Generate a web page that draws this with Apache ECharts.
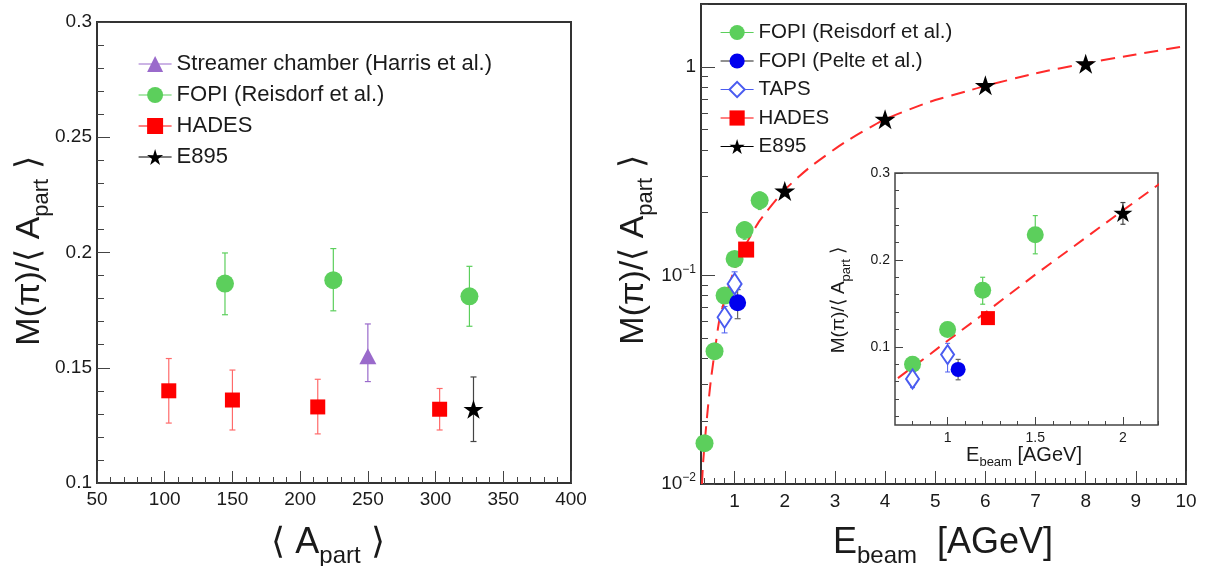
<!DOCTYPE html>
<html><head><meta charset="utf-8">
<script src="https://cdn.jsdelivr.net/npm/echarts@6/dist/echarts.min.js"></script>
<style>html,body{margin:0;padding:0;background:#fff}#c{width:1205px;height:566px}</style>
</head><body><div id="c"></div>
<script>
// ---------- Left panel: M(pi)/<A_part> vs <A_part> ----------
const leftStreamerX = [250];
const leftStreamerY = [0.155];
const leftStreamerLo = [0.144];
const leftStreamerHi = [0.169];

const leftFopiX = [144.5, 224.5, 325];
const leftFopiY = [0.1865, 0.188, 0.181];
const leftFopiLo = [0.173, 0.1747, 0.168];
const leftFopiHi = [0.1998, 0.2017, 0.194];

const leftHadesX = [103, 150, 213, 303];
const leftHadesY = [0.140, 0.136, 0.133, 0.132];
const leftHadesLo = [0.126, 0.123, 0.1213, 0.123];
const leftHadesHi = [0.154, 0.149, 0.145, 0.141];

const leftE895X = [328];
const leftE895Y = [0.132];
const leftE895Lo = [0.118];
const leftE895Hi = [0.146];

// ---------- Right panel (and inset): M(pi)/<A_part> vs E_beam ----------
const fopiRX = [0.4, 0.6, 0.8, 1.0, 1.2, 1.5];
const fopiRY = [0.0157, 0.0433, 0.080, 0.120, 0.165, 0.229];
const fopiRLo = [0.0152, 0.0420, 0.076, 0.112, 0.149, 0.207];
const fopiRHi = [0.0162, 0.0446, 0.084, 0.128, 0.180, 0.251];

const fopiPX = [1.06];
const fopiPY = [0.074];
const fopiPLo = [0.062];
const fopiPHi = [0.0855];

const tapsX = [0.8, 1.0];
const tapsY = [0.063, 0.091];
const tapsLo = [0.053, 0.071];
const tapsHi = [0.071, 0.104];

const hadesRX = [1.23];
const hadesRY = [0.133];
const hadesRLo = [0.129];
const hadesRHi = [0.137];

const e895X = [2, 4, 6, 8];
const e895Y = [0.254, 0.561, 0.815, 1.035];
const e895Lo = [0.241, 0.550, 0.800, 1.020];
const e895Hi = [0.266, 0.572, 0.830, 1.050];

const fitX = [0.35, 0.37, 0.42, 0.47, 0.53, 0.60, 0.69, 0.80, 0.90, 1.0, 1.2, 1.5, 2.0, 2.5, 3.2, 4.0, 4.9, 5.6, 6.0, 7.0, 8.0, 9.0, 10.0];
const fitY = [0.0100, 0.0125, 0.0175, 0.0235, 0.0320, 0.0425, 0.0600, 0.0765, 0.0915, 0.1070, 0.1370, 0.1830, 0.2570, 0.3300, 0.4350, 0.5600, 0.6800, 0.7600, 0.8100, 0.9300, 1.0400, 1.1450, 1.2600];

// ---------- tick values ----------
const mainXTicks = [1, 2, 3, 4, 5, 6, 7, 8, 9, 10];
const mainYTicks = [0.01, 0.1, 1];
const insetXTicks = [1, 1.5, 2];
const insetYTicks = [0.1, 0.2, 0.3];

const mainXMinor = [];
for (let v = 4; v <= 98; v += 2) { if (v % 10 !== 0) mainXMinor.push(v / 10); }
const mainYMinor = [];
[0.01, 0.1, 1].forEach(d => { for (let k = 2; k <= 9; k++) { const v = +(k * d).toFixed(4); if (v <= 2) mainYMinor.push(v); } });
const insetXMinor = [];
for (let v = 8; v <= 22; v++) { if (v % 5 !== 0) insetXMinor.push(v / 10); }
const insetYMinor = [];
for (let v = 2; v <= 28; v += 2) { if (v % 10 !== 0) insetYMinor.push(v / 100); }

const FONT = '"Liberation Sans", Arial, Helvetica, sans-serif';
const TXT = '#1a1a1a';
const GREEN = '#5ccf5c', PURPLE = '#9a6acb', RED = '#ff0000', BLUE = '#0000ee', TAPSC = '#4a5cf0', BLACK = '#000000';
const STAR = 'path://M50,0L61.17,34.63L97.55,34.55L68.07,55.87L79.39,90.45L50,69L20.61,90.45L31.93,55.87L2.45,34.55L38.83,34.63Z';

const zip2 = (xs, ys) => xs.map((x, i) => [x, ys[i]]);
const zip3 = (xs, lo, hi) => xs.map((x, i) => [x, lo[i], hi[i]]);

function errSeries(id, xs, lo, hi, xi, yi, color, cap, width) {
  return {
    type: 'custom', name: 'err_' + id, xAxisIndex: xi, yAxisIndex: yi, clip: true, z: 1, silent: true,
    data: zip3(xs, lo, hi), encode: { x: 0, y: [1, 2] },
    renderItem: (p, api) => {
      const x = api.value(0);
      const a = api.coord([x, api.value(1)]);
      const b = api.coord([x, api.value(2)]);
      const st = { stroke: color, lineWidth: width || 1.2 };
      return {
        type: 'group', children: [
          { type: 'line', shape: { x1: a[0], y1: a[1], x2: b[0], y2: b[1] }, style: st },
          { type: 'line', shape: { x1: a[0] - cap, y1: a[1], x2: a[0] + cap, y2: a[1] }, style: st },
          { type: 'line', shape: { x1: b[0] - cap, y1: b[1], x2: b[0] + cap, y2: b[1] }, style: st }
        ]
      };
    }
  };
}
function markSeries(name, xs, ys, xi, yi, symbol, size, color, lineColor, extraItem) {
  return {
    type: 'line', name, xAxisIndex: xi, yAxisIndex: yi, data: zip2(xs, ys),
    symbol, symbolSize: size, showSymbol: true, showAllSymbol: true, clip: true, z: 3, silent: true,
    lineStyle: { opacity: 0, width: 1.2, color: lineColor || color },
    itemStyle: Object.assign({ color, opacity: 1 }, extraItem || {}),
    emphasis: { disabled: true }
  };
}

const tickStyle = { color: '#444', width: 1 };
function baseAxis(extra) {
  return Object.assign({
    type: 'value', position: 'bottom', splitLine: { show: false },
    axisLine: { show: false }, axisTick: { show: false }, axisLabel: { show: false }
  }, extra);
}

const option = {
  animation: false,
  backgroundColor: '#fff',
  grid: [
    { left: 97, top: 22, width: 474, height: 461, show: true, borderColor: '#333', borderWidth: 2, backgroundColor: '#fff' },
    { left: 701, top: 4, width: 485, height: 480, show: true, borderColor: '#333', borderWidth: 2, backgroundColor: '#fff' },
    { left: 895, top: 173, width: 263, height: 252, show: true, borderColor: '#444', borderWidth: 1.5, backgroundColor: '#fff' }
  ],
  xAxis: [
    baseAxis({ gridIndex: 0, min: 50, max: 400, interval: 50,
      axisTick: { show: true, inside: true, length: 12, lineStyle: tickStyle },
      minorTick: { show: true, splitNumber: 5, length: 6, lineStyle: tickStyle },
      axisLabel: { show: true, fontSize: 19, color: TXT, fontFamily: FONT, margin: 7 } }),
    baseAxis({ gridIndex: 1, min: 0.33, max: 10,
      axisTick: { show: true, inside: true, length: 13, lineStyle: tickStyle, customValues: mainXTicks },
      axisLabel: { show: true, fontSize: 19, color: TXT, fontFamily: FONT, margin: 8, customValues: mainXTicks } }),
    baseAxis({ gridIndex: 1, min: 0.33, max: 10,
      axisTick: { show: true, inside: true, length: 6, lineStyle: tickStyle, customValues: mainXMinor } }),
    baseAxis({ gridIndex: 2, min: 0.7, max: 2.2,
      axisTick: { show: true, inside: true, length: 8, lineStyle: tickStyle, customValues: insetXTicks },
      axisLabel: { show: true, fontSize: 14, color: TXT, fontFamily: FONT, margin: 6, customValues: insetXTicks } }),
    baseAxis({ gridIndex: 2, min: 0.7, max: 2.2,
      axisTick: { show: true, inside: true, length: 4, lineStyle: tickStyle, customValues: insetXMinor } })
  ],
  yAxis: [
    baseAxis({ gridIndex: 0, position: 'left', min: 0.1, max: 0.3, interval: 0.05,
      axisTick: { show: true, inside: true, length: 13, lineStyle: tickStyle },
      minorTick: { show: true, splitNumber: 5, length: 7, lineStyle: tickStyle },
      axisLabel: { show: true, fontSize: 19, color: TXT, fontFamily: FONT, margin: 5 } }),
    baseAxis({ gridIndex: 1, type: 'log', logBase: 10, position: 'left', min: 0.01, max: 2,
      axisTick: { show: true, inside: true, length: 14, lineStyle: tickStyle, customValues: mainYTicks },
      axisLabel: { show: true, color: TXT, fontFamily: FONT, margin: 5, customValues: mainYTicks,
        formatter: v => v < 0.05 ? '{b|10}{s|−2}' : (v < 0.5 ? '{b|10}{s|−1}' : '{b|1}'),
        rich: { b: { fontSize: 19, fontFamily: FONT, color: TXT }, s: { fontSize: 12, fontFamily: FONT, color: TXT, padding: [0, 0, 12, 0] } } } }),
    baseAxis({ gridIndex: 1, type: 'log', logBase: 10, position: 'left', min: 0.01, max: 2,
      axisTick: { show: true, inside: true, length: 7, lineStyle: tickStyle, customValues: mainYMinor } }),
    baseAxis({ gridIndex: 2, position: 'left', min: 0.01, max: 0.3,
      axisTick: { show: true, inside: true, length: 8, lineStyle: tickStyle, customValues: insetYTicks },
      axisLabel: { show: true, fontSize: 14, color: TXT, fontFamily: FONT, margin: 5, customValues: insetYTicks } }),
    baseAxis({ gridIndex: 2, position: 'left', min: 0.01, max: 0.3,
      axisTick: { show: true, inside: true, length: 4, lineStyle: tickStyle, customValues: insetYMinor } })
  ],
  legend: [
    { data: ['Streamer chamber (Harris et al.)', 'FOPI (Reisdorf et al.)', 'HADES', 'E895'],
      orient: 'vertical', left: 133, top: 48, itemWidth: 33, itemHeight: 20, itemGap: 9, selectedMode: false,
      textStyle: { fontSize: 22, color: TXT, fontFamily: FONT }, lineStyle: { opacity: 1, width: 1.2 } },
    { data: ['FOPI (Reisdorf et al.)', 'FOPI (Pelte et al.)', 'TAPS', 'HADES', 'E895'],
      orient: 'vertical', left: 715, top: 17, itemWidth: 33, itemHeight: 19, itemGap: 7.5, selectedMode: false,
      textStyle: { fontSize: 20.5, color: TXT, fontFamily: FONT }, lineStyle: { opacity: 1, width: 1.2 } }
  ],
  series: [
    // left panel
    errSeries('ls', leftStreamerX, leftStreamerLo, leftStreamerHi, 0, 0, PURPLE, 3),
    errSeries('lf', leftFopiX, leftFopiLo, leftFopiHi, 0, 0, GREEN, 3),
    errSeries('lh', leftHadesX, leftHadesLo, leftHadesHi, 0, 0, '#ff6a6a', 3),
    errSeries('le', leftE895X, leftE895Lo, leftE895Hi, 0, 0, '#444', 3),
    markSeries('Streamer chamber (Harris et al.)', leftStreamerX, leftStreamerY, 0, 0, 'triangle', [17, 16], PURPLE),
    markSeries('FOPI (Reisdorf et al.)', leftFopiX, leftFopiY, 0, 0, 'circle', 18, GREEN),
    markSeries('HADES', leftHadesX, leftHadesY, 0, 0, 'rect', 15, RED),
    markSeries('E895', leftE895X, leftE895Y, 0, 0, STAR, [20, 19], BLACK),
    // main right panel
    { type: 'line', name: 'fit', xAxisIndex: 1, yAxisIndex: 1, data: zip2(fitX, fitY), showSymbol: false, smooth: 0.2,
      clip: true, z: 2, silent: true, lineStyle: { color: '#ff2a2a', width: 2, type: [14, 8] } },
    errSeries('rf', fopiRX, fopiRLo, fopiRHi, 1, 1, GREEN, 2),
    errSeries('rp', fopiPX, fopiPLo, fopiPHi, 1, 1, '#666', 3),
    errSeries('rt', tapsX, tapsLo, tapsHi, 1, 1, TAPSC, 3, 1),
    errSeries('rh', hadesRX, hadesRLo, hadesRHi, 1, 1, RED, 2),
    errSeries('re', e895X, e895Lo, e895Hi, 1, 1, '#444', 2),
    markSeries('FOPI (Reisdorf et al.)', fopiRX, fopiRY, 1, 1, 'circle', 18, GREEN),
    markSeries('FOPI (Pelte et al.)', fopiPX, fopiPY, 1, 1, 'circle', 17, BLUE, '#222'),
    markSeries('TAPS', tapsX, tapsY, 1, 1, 'emptyDiamond', [14, 21], TAPSC, TAPSC, { borderColor: TAPSC, borderWidth: 1.2 }),
    markSeries('HADES', hadesRX, hadesRY, 1, 1, 'rect', 16, RED),
    markSeries('E895', e895X, e895Y, 1, 1, STAR, [21, 20], BLACK),
    // inset
    { type: 'line', name: 'fit_inset', xAxisIndex: 3, yAxisIndex: 3, data: zip2(fitX, fitY), showSymbol: false, smooth: false,
      clip: true, z: 2, silent: true, lineStyle: { color: '#ff2a2a', width: 2, type: [12, 8] } },
    errSeries('if', fopiRX, fopiRLo, fopiRHi, 3, 3, GREEN, 2.5),
    errSeries('ip', fopiPX, fopiPLo, fopiPHi, 3, 3, '#666', 2.5),
    errSeries('it', tapsX, tapsLo, tapsHi, 3, 3, TAPSC, 2.5, 1),
    errSeries('ih', hadesRX, hadesRLo, hadesRHi, 3, 3, RED, 2.5),
    errSeries('ie', e895X, e895Lo, e895Hi, 3, 3, '#444', 2.5),
    markSeries('FOPI (Reisdorf et al.)', fopiRX, fopiRY, 3, 3, 'circle', 17, GREEN),
    markSeries('FOPI (Pelte et al.)', fopiPX, fopiPY, 3, 3, 'circle', 15, BLUE, '#222'),
    markSeries('TAPS', tapsX, tapsY, 3, 3, 'emptyDiamond', [13, 19], TAPSC, TAPSC, { borderColor: TAPSC, borderWidth: 1.2 }),
    markSeries('HADES', hadesRX, hadesRY, 3, 3, 'rect', 14, RED),
    markSeries('E895', e895X, e895Y, 3, 3, STAR, [19, 18], BLACK)
  ],
  graphic: [
    { type: 'text', x: 30, y: 251, rotation: Math.PI / 2, z: 10,
      style: { text: '{a|M(π)/⟨ A}{s|part}{a| ⟩}', align: 'center', verticalAlign: 'middle',
        rich: { a: { fontSize: 34, fontFamily: FONT, fill: TXT }, s: { fontSize: 22, fontFamily: FONT, fill: TXT, padding: [24, 0, 0, 0] } } } },
    { type: 'text', x: 328, y: 543, z: 10,
      style: { text: '{a|⟨ A}{s|part}{a| ⟩}', align: 'center', verticalAlign: 'middle',
        rich: { a: { fontSize: 36, fontFamily: FONT, fill: TXT }, s: { fontSize: 24, fontFamily: FONT, fill: TXT, padding: [26, 0, 0, 0] } } } },
    { type: 'text', x: 634, y: 250, rotation: Math.PI / 2, z: 10,
      style: { text: '{a|M(π)/⟨ A}{s|part}{a| ⟩}', align: 'center', verticalAlign: 'middle',
        rich: { a: { fontSize: 34, fontFamily: FONT, fill: TXT }, s: { fontSize: 22, fontFamily: FONT, fill: TXT, padding: [24, 0, 0, 0] } } } },
    { type: 'text', x: 943, y: 543, z: 10,
      style: { text: '{a|E}{s|beam}{a|  [AGeV]}', align: 'center', verticalAlign: 'middle',
        rich: { a: { fontSize: 36, fontFamily: FONT, fill: TXT }, s: { fontSize: 24, fontFamily: FONT, fill: TXT, padding: [26, 0, 0, 0] } } } },
    { type: 'text', x: 1024, y: 455, z: 10,
      style: { text: '{a|E}{s|beam}{a| [AGeV]}', align: 'center', verticalAlign: 'middle',
        rich: { a: { fontSize: 20, fontFamily: FONT, fill: TXT }, s: { fontSize: 13, fontFamily: FONT, fill: TXT, padding: [14, 0, 0, 0] } } } },
    { type: 'text', x: 839, y: 300, rotation: Math.PI / 2, z: 10,
      style: { text: '{a|M(π)/⟨ A}{s|part}{a| ⟩}', align: 'center', verticalAlign: 'middle',
        rich: { a: { fontSize: 19, fontFamily: FONT, fill: TXT }, s: { fontSize: 13, fontFamily: FONT, fill: TXT, padding: [14, 0, 0, 0] } } } }
  ]
};

const chart = echarts.init(document.getElementById('c'), null, { renderer: 'canvas' });
chart.setOption(option);
</script>
</body></html>
